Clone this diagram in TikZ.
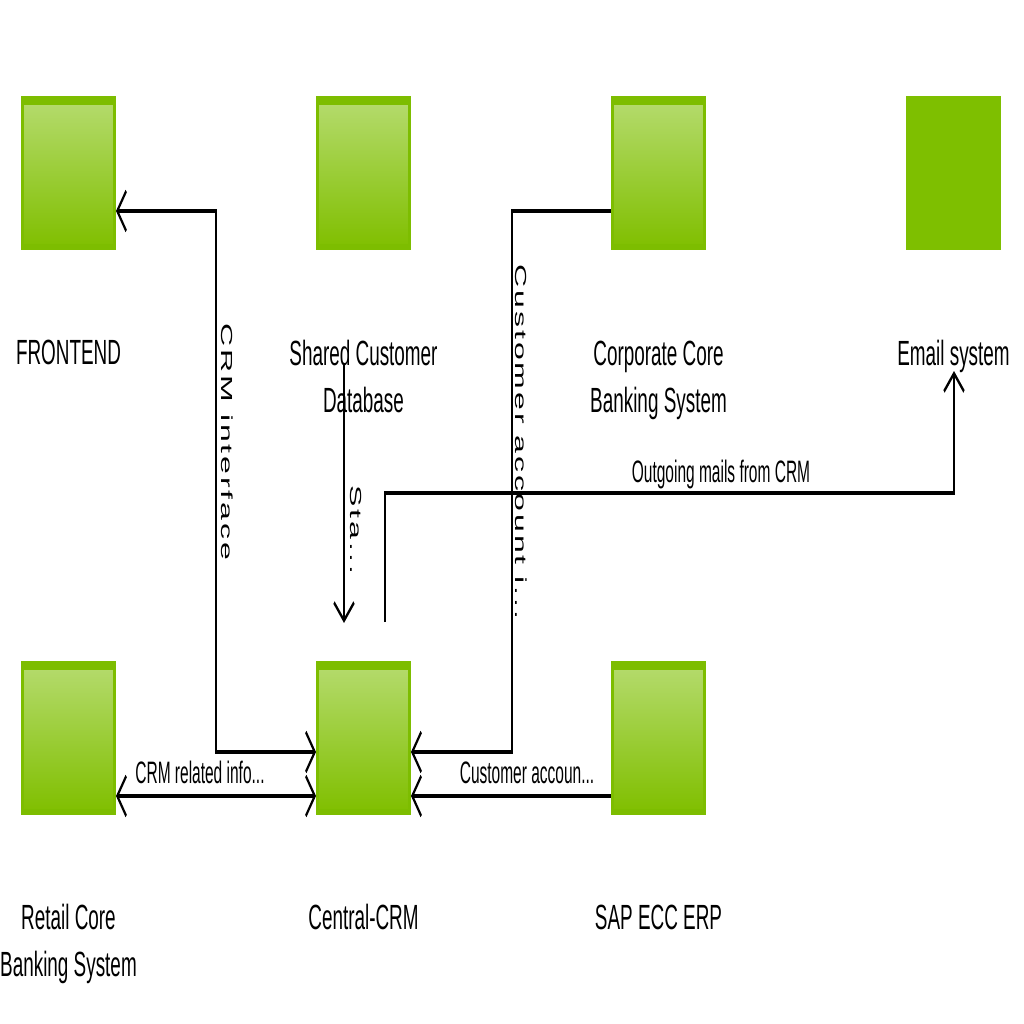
\documentclass[tikz,border=0pt]{standalone}
\usepackage{fontspec}
\setmainfont{Liberation Sans}
\newfontfamily\nodefont{Liberation Sans}[FakeStretch=1.08]
\newfontfamily\vertfont{Liberation Sans}[LetterSpace=9]
\usetikzlibrary{arrows.meta}
\definecolor{gdark}{HTML}{7DBD00}
\definecolor{glight}{HTML}{B5DB6E}
\definecolor{gbot}{HTML}{80BF00}
\definecolor{gflat}{HTML}{7EBF00}
\begin{document}
\begin{tikzpicture}
\useasboundingbox[fill=white] (0,0) rectangle (1024pt,-1024pt);
\begin{scope}[transform canvas={yscale=2}, x=1pt, y=-0.5pt,
  sysbox/.style={rectangle, minimum width=92pt, minimum height=74pt, inner sep=0pt,
    top color=glight, bottom color=gbot, draw=gdark, line width=3pt,
    path picture={\fill[gdark] (path picture bounding box.north west) rectangle ([yshift=-3pt]path picture bounding box.north east);}},
  flatbox/.style={rectangle, minimum width=95pt, minimum height=77pt, inner sep=0pt, fill=gflat},
  namelbl/.style={anchor=base, inner sep=0pt, align=center, font=\nodefont\fontsize{17.5}{23.5}\selectfont},
  elbl/.style={anchor=base, inner sep=0pt, font=\fontsize{15.5}{18}\selectfont},
  vlbl/.style={anchor=center, inner sep=0pt, rotate=-90, font=\vertfont\fontsize{16}{18}\selectfont},
  conn/.style={draw=black, line width=1.8pt, >={Straight Barb[length=9pt,width=20pt]}}
]
% system boxes
\node[sysbox] (fe) at (68.5,173) {};
\node[sysbox] (scd) at (363.5,173) {};
\node[sysbox] (ccb) at (658.5,173) {};
\node[flatbox] (email) at (953.5,173) {};
\node[sysbox] (retail) at (68.5,737.5) {};
\node[sysbox] (crm) at (363.5,737.5) {};
\node[sysbox] (sap) at (658.5,737.5) {};
% box names (base = baseline of last line)
\node[namelbl] (feL) at (68.5,364) {FRONTEND};
\node[namelbl] (scdL) at (363.5,412) {Shared Customer\\Database};
\node[namelbl] (ccbL) at (658.5,412) {Corporate Core\\Banking System};
\node[namelbl] (emailL) at (953.5,365) {Email system};
\node[namelbl] (retailL) at (68.5,976) {Retail Core\\Banking System};
\node[namelbl] (crmL) at (363.5,929) {Central-CRM};
\node[namelbl] (sapL) at (658.5,929) {SAP ECC ERP};
% CRM interface
\coordinate (c1) at (216,480);
\draw[conn, <->] ([yshift=-19pt]fe.east) -| (c1) |- ([yshift=-7.25pt]crm.west);
\node[vlbl] (l1) at (227.5,442) {CRM interface};
% Customer account (corporate)
\coordinate (c4) at (512,480);
\draw[conn, ->] ([yshift=-19pt]ccb.west) -| (c4) |- ([yshift=-7.25pt]crm.east);
\node[vlbl] (l4) at (521,442) {Customer account i...};
% SAP
\draw[conn, ->] ([yshift=-29.25pt]sap.west) -- ([yshift=-29.25pt]crm.east);
\node[elbl] (l5) at (527,783) {Customer accoun...};
% Retail
\draw[conn, <->] ([yshift=-29.25pt]retail.east) -- ([yshift=-29.25pt]crm.west);
\node[elbl] (l6) at (200,783) {CRM related info...};
% Shared DB
\coordinate (s1) at (344,365);
\coordinate (s2) at (344,623);
\draw[conn, ->] (s1) -- (s2);
\node[vlbl] (l2) at (356,530) {Sta...};
% Outgoing mails
\coordinate (m1) at (385,622);
\coordinate (m2) at (954,493);
\coordinate (m3) at (954,371);
\draw[conn, ->] (m1) |- (m2) -- (m3);
\node[elbl] (l3) at (721,482) {Outgoing mails from CRM};
\end{scope}
\end{tikzpicture}
\end{document}
